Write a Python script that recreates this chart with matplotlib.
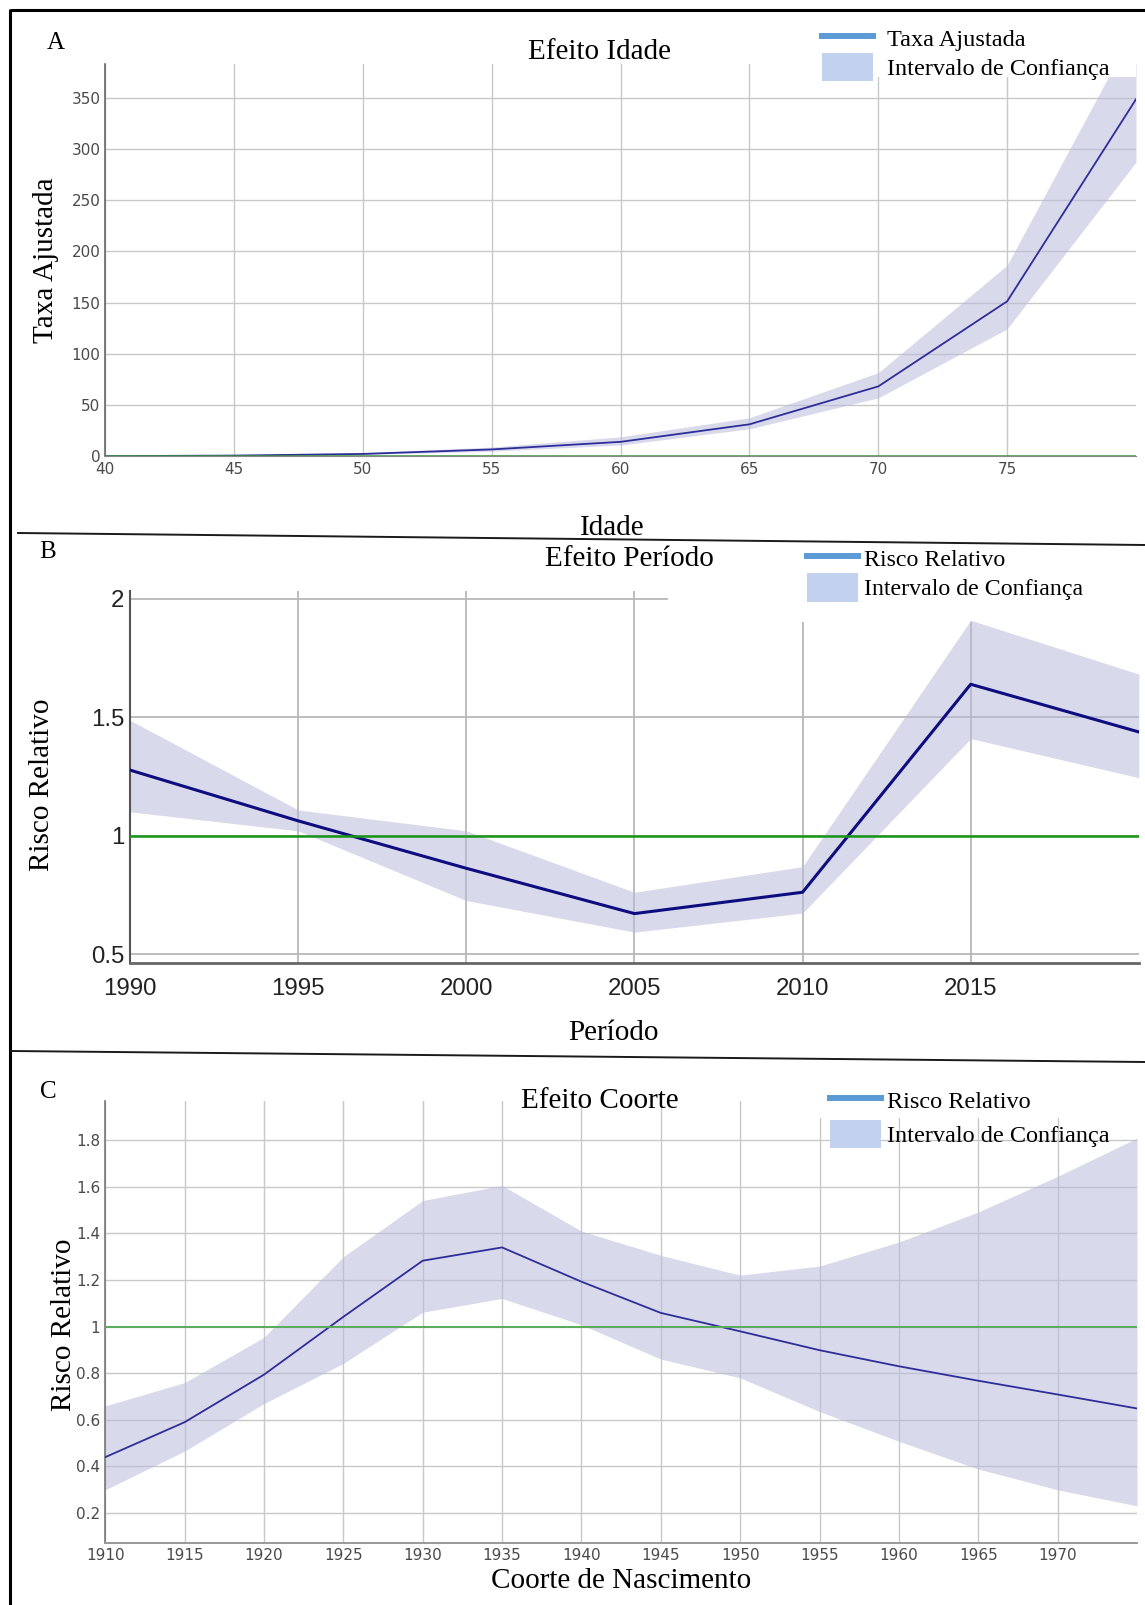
import matplotlib
matplotlib.use("Agg")
import matplotlib.pyplot as plt
from matplotlib.lines import Line2D
from matplotlib.patches import Patch, Rectangle
from matplotlib.legend_handler import HandlerPatch

W, H = 1145, 1605
DPI = 100
plt.rcParams['font.family'] = ['Liberation Serif', 'DejaVu Serif']

# ---------------- Data ----------------
# Panel A - Efeito Idade
idade = [40, 45, 50, 55, 60, 65, 70, 75, 80]
taxa = [0.2, 0.7, 2.3, 6.7, 14.1, 31.2, 68.2, 151.2, 348.3]
taxa_sup = [0.4, 1.2, 3.5, 9.0, 19.0, 37.6, 81.6, 186.4, 420.0]
taxa_inf = [0.1, 0.4, 1.8, 5.0, 11.0, 26.8, 57.0, 124.3, 287.0]
idade_ticks = [40, 45, 50, 55, 60, 65, 70, 75]
taxa_ticks = [0, 50, 100, 150, 200, 250, 300, 350]

# Panel B - Efeito Periodo
periodo = [1990, 1995, 2000, 2005, 2010, 2015, 2020]
rr_periodo = [1.277, 1.063, 0.863, 0.672, 0.762, 1.639, 1.438]
rr_periodo_sup = [1.487, 1.109, 1.021, 0.762, 0.870, 1.909, 1.682]
rr_periodo_inf = [1.101, 1.021, 0.727, 0.594, 0.674, 1.410, 1.245]
periodo_ticks = [1990, 1995, 2000, 2005, 2010, 2015]
periodo_yticks = [0.5, 1.0, 1.5, 2.0]
periodo_ylabels = ['0.5', '1', '1.5', '2']

# Panel C - Efeito Coorte
coorte = [1910, 1915, 1920, 1925, 1930, 1935, 1940, 1945, 1950, 1955,
          1960, 1965, 1970, 1975]
rr_coorte = [0.44, 0.59, 0.794, 1.042, 1.283, 1.340, 1.193, 1.059, 0.980,
             0.899, 0.830, 0.768, 0.709, 0.649]
rr_coorte_sup = [0.66, 0.76, 0.954, 1.30, 1.541, 1.606, 1.41, 1.306, 1.221,
                 1.26, 1.363, 1.492, 1.645, 1.809]
rr_coorte_inf = [0.30, 0.466, 0.67, 0.842, 1.062, 1.121, 1.008, 0.861, 0.78,
                 0.636, 0.508, 0.389, 0.30, 0.231]
coorte_ticks = [1910, 1915, 1920, 1925, 1930, 1935, 1940, 1945, 1950, 1955,
                1960, 1965, 1970]
coorte_yticks = [0.2, 0.4, 0.6, 0.8, 1.0, 1.2, 1.4, 1.6, 1.8]
coorte_ylabels = ['0.2', '0.4', '0.6', '0.8', '1', '1.2', '1.4', '1.6', '1.8']

# ---------------- Styles ----------------
BAND = '#b8bbdc'
BAND_ALPHA = 0.55
LEG_LINE = '#5b9bd5'
LEG_PATCH = '#c2d2ee'
GRID = '#c8c8c8'

fig = plt.figure(figsize=(W / DPI, H / DPI), dpi=DPI)


def axes_px(l, r, t, b):
    return fig.add_axes([l / W, 1 - b / H, (r - l) / W, (b - t) / H])


def fx(x):
    return x / W


def fy(y):
    return 1 - y / H


def tall_patch(legend, orig_handle, xdescent, ydescent, width, height, fontsize):
    extra = 1.5  # points added above and below the swatch
    return Rectangle((-xdescent, -ydescent - extra), width, height + 2 * extra)


def legenda(ax, label, x_px, y_px, fs, spacing, textpad):
    handles = [Line2D([], [], color=LEG_LINE, lw=4.3),
               Patch(facecolor=LEG_PATCH, edgecolor='none')]
    leg = ax.legend(handles, [label, 'Intervalo de Confiança'],
                    loc='upper left', bbox_to_anchor=(fx(x_px), fy(y_px)),
                    bbox_transform=fig.transFigure, frameon=False,
                    prop={'family': 'Liberation Serif', 'size': fs},
                    handlelength=50.5 / (fs / 0.72), handleheight=28.0 / (fs / 0.72),
                    labelspacing=spacing, handletextpad=textpad,
                    borderpad=0, borderaxespad=0,
                    handler_map={Patch: HandlerPatch(patch_func=tall_patch)})
    leg.set_zorder(10)
    return leg


# ---------------- Panel A ----------------
axA = axes_px(105.2, 1136, 63.7, 456.3)
axA.set_xlim(40, 80)
axA.set_ylim(0, 383)
axA.set_axisbelow(True)
axA.grid(True, color=GRID, lw=1.0)
axA.fill_between(idade, taxa_inf, taxa_sup, color=BAND, alpha=BAND_ALPHA, lw=0, zorder=1)
axA.plot(idade, taxa, color='#2e2e9a', lw=1.3, zorder=3)
axA.axhline(0, color='#3c9a3c', lw=1.8, zorder=4)
axA.add_patch(Rectangle((67.8, 370), 12.2, 13, facecolor='white', edgecolor='none', zorder=2))
axA.set_xticks(idade_ticks, [str(v) for v in idade_ticks], fontfamily='DejaVu Sans')
axA.set_yticks(taxa_ticks, [str(v) for v in taxa_ticks], fontfamily='DejaVu Sans')
axA.tick_params(axis='both', length=0, labelsize=11, labelcolor='#4a4a4a')
axA.tick_params(axis='y', pad=3.5)
axA.tick_params(axis='x', pad=4.3)
for s in ['top', 'right']:
    axA.spines[s].set_visible(False)
axA.spines['left'].set_color('#666666')
axA.spines['left'].set_linewidth(1.2)
axA.spines['bottom'].set_color('#888888')
axA.set_title('Efeito Idade', x=(599 - 105.2) / 1030.8, y=(456.3 - 59) / 392.6,
              pad=0, fontsize=21)
axA.set_xlabel('Idade', fontsize=21)
axA.xaxis.set_label_coords((612 - 105.2) / 1030.8, (456.3 - 515) / 392.6)
axA.set_ylabel('Taxa Ajustada', fontsize=21)
axA.yaxis.set_label_coords((59.3 - 105.2) / 1030.8, 0.5)
legenda(axA, 'Taxa Ajustada', 822, 25.5, 17.5, 0.16, 0.6)

# ---------------- Panel B ----------------
axB = axes_px(130.1, 1138.8, 590.6, 963.4)
axB.set_xlim(1990, 2020)
axB.set_ylim(0.462, 2.034)
axB.set_axisbelow(True)
axB.grid(True, color='#b8b8b8', lw=1.3)
axB.add_patch(Rectangle((2006, 1.90), 14, 0.2, facecolor='white', edgecolor='none', zorder=0.8))
axB.fill_between(periodo, rr_periodo_inf, rr_periodo_sup, color=BAND, alpha=BAND_ALPHA, lw=0, zorder=1)
axB.plot(periodo, rr_periodo, color='#0d0d80', lw=2.2, zorder=3)
axB.axhline(1.0, color='#189418', lw=1.8, zorder=4)
axB.set_xticks(periodo_ticks, [str(v) for v in periodo_ticks], fontfamily='Liberation Sans')
axB.set_yticks(periodo_yticks, periodo_ylabels, fontfamily='Liberation Sans')
axB.tick_params(axis='both', length=0, labelsize=17.3, labelcolor='#222222')
axB.tick_params(axis='y', pad=4)
axB.tick_params(axis='x', pad=10.5)
for s in ['top', 'right']:
    axB.spines[s].set_visible(False)
axB.spines['left'].set_color('#555555')
axB.spines['left'].set_linewidth(1.5)
axB.spines['bottom'].set_color('#666666')
axB.spines['bottom'].set_linewidth(2.0)
axB.set_title('Efeito Período', x=(629 - 130.1) / 1008.7, y=(963.4 - 566.5) / 372.8,
              pad=0, fontsize=21)
axB.set_xlabel('Período', fontsize=21)
axB.xaxis.set_label_coords((613.5 - 130.1) / 1008.7, (963.4 - 1020) / 372.8)
axB.set_ylabel('Risco Relativo', fontsize=21)
axB.yaxis.set_label_coords((55 - 130.1) / 1008.7, 0.478)
legenda(axB, 'Risco Relativo', 807, 545.5, 17.2, 0.2, 0.26)

# ---------------- Panel C ----------------
axC = axes_px(105.2, 1137, 1101.3, 1542.7)
axC.set_xlim(1910, 1975)
axC.set_ylim(0.073, 1.967)
axC.set_axisbelow(True)
axC.grid(True, color=GRID, lw=1.0)
axC.add_patch(Rectangle((1953.3, 1.897), 21.7, 0.1, facecolor='white', edgecolor='none', zorder=0.8))
axC.fill_between(coorte, rr_coorte_inf, rr_coorte_sup, color=BAND, alpha=BAND_ALPHA, lw=0, zorder=1)
axC.plot(coorte, rr_coorte, color='#2e2e9a', lw=1.3, zorder=3)
axC.axhline(1.0, color='#5aaa5a', lw=1.4, zorder=4)
axC.set_xticks(coorte_ticks, [str(v) for v in coorte_ticks], fontfamily='DejaVu Sans')
axC.set_yticks(coorte_yticks, coorte_ylabels, fontfamily='DejaVu Sans')
axC.tick_params(axis='both', length=0, labelsize=11, labelcolor='#4a4a4a')
axC.tick_params(axis='y', pad=3.6)
axC.tick_params(axis='x', pad=4.0)
for s in ['top', 'right']:
    axC.spines[s].set_visible(False)
axC.spines['left'].set_color('#777777')
axC.spines['left'].set_linewidth(1.2)
axC.spines['bottom'].set_color('#999999')
axC.spines['bottom'].set_linewidth(1.4)
axC.set_title('Efeito Coorte', x=(600 - 105.2) / 1031.8, y=(1542.7 - 1107.7) / 441.4,
              pad=0, fontsize=21)
axC.set_xlabel('Coorte de Nascimento', fontsize=21)
axC.xaxis.set_label_coords((621 - 105.2) / 1031.8, (1542.7 - 1568) / 441.4)
axC.set_ylabel('Risco Relativo', fontsize=21)
axC.yaxis.set_label_coords((77 - 105.2) / 1031.8, 0.4946)
legenda(axC, 'Risco Relativo', 830, 1088, 17.5, 0.36, 0.27)

# ---------------- Panel letters, frame and separators ----------------
fig.text(fx(56), fy(43), 'A', ha='center', va='center', fontsize=18)
fig.text(fx(48), fy(552), 'B', ha='center', va='center', fontsize=18)
fig.text(fx(48.4), fy(1092), 'C', ha='center', va='center', fontsize=18)

frame_kw = dict(transform=fig.transFigure, color='black', lw=2.2, solid_capstyle='butt')
fig.add_artist(Line2D([fx(9.6), fx(1145)], [fy(10.3), fy(10.3)], **frame_kw))
fig.add_artist(Line2D([fx(9.6), fx(9.6)], [fy(9.2), fy(1605)], **frame_kw))
sep_kw = dict(transform=fig.transFigure, color='#1a1a1a', lw=1.4)
fig.add_artist(Line2D([fx(18), fx(1145)], [fy(533), fy(545)], **sep_kw))
fig.add_artist(Line2D([fx(11), fx(1145)], [fy(1051), fy(1062)], **sep_kw))

fig.savefig('out.png', dpi=DPI)
